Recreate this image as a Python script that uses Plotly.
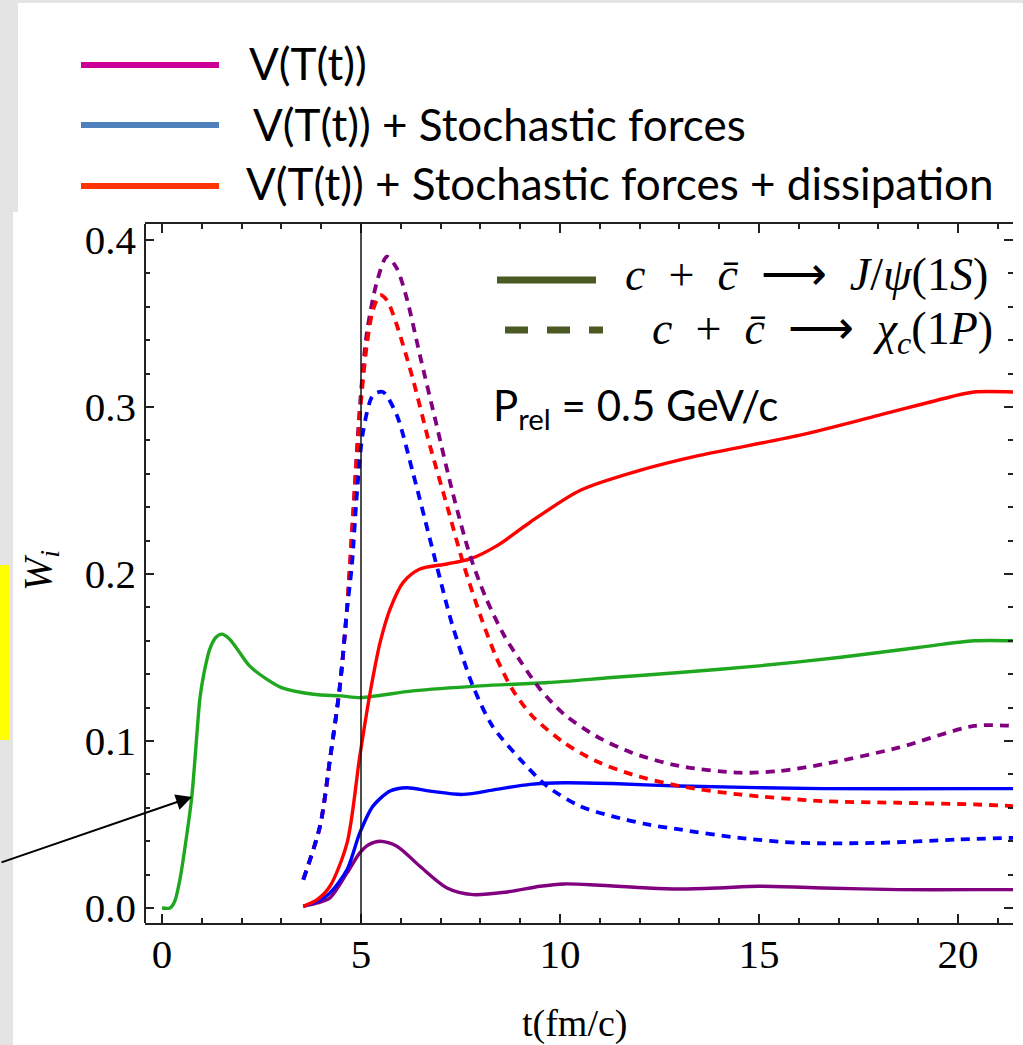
import plotly.graph_objects as go

# ---------------- data ----------------
green_t = [0, 0.2, 0.32, 0.45, 0.63, 0.75, 0.88, 0.95, 1.05, 1.2, 1.35, 1.5, 1.7, 1.95, 2.2, 2.63, 3.0,
           3.8, 4.5, 5.0, 6.3, 8.0, 9.7, 11.3, 13.0, 15.0, 17.0, 19.0, 20.4, 21.4]
green_y = [0, 0, 0.004, 0.017, 0.045, 0.067, 0.105, 0.125, 0.140, 0.155, 0.162, 0.164, 0.161, 0.153, 0.145, 0.137, 0.132,
           0.128, 0.127, 0.126, 0.130, 0.133, 0.135, 0.138, 0.141, 0.145, 0.150, 0.156, 0.160, 0.160]

purple_t = [3.55, 3.9, 4.22, 4.65, 4.97, 5.2, 5.48, 5.9, 6.48, 7.16, 7.81, 8.67, 9.5, 10.1, 10.9,
            12.2, 13.0, 14.0, 15.0, 16.6, 18.5, 20.4, 21.4]
purple_y = [0.001, 0.003, 0.006, 0.021, 0.033, 0.038, 0.040, 0.037, 0.025, 0.012, 0.008, 0.0096, 0.013, 0.0144, 0.0138,
            0.012, 0.0114, 0.012, 0.013, 0.012, 0.011, 0.011, 0.011]

blue_t = [3.55, 3.9, 4.22, 4.65, 4.97, 5.3, 5.73, 6.15, 6.73, 7.56, 8.4, 9.25, 10.1, 11.3, 13.0, 16.6, 20.4, 21.4]
blue_y = [0.001, 0.004, 0.009, 0.023, 0.045, 0.061, 0.070, 0.072, 0.070, 0.068, 0.071, 0.074, 0.075, 0.0745, 0.073,
          0.0715, 0.0715, 0.0715]

red_t = [3.55, 3.9, 4.22, 4.65, 4.97, 5.23, 5.48, 5.73, 6.06, 6.48, 7.16, 7.74, 8.42, 9.25, 10.5, 12.0,
         13.5, 16.0, 18.0, 19.8, 20.4, 21.4]
red_y = [0.001, 0.005, 0.013, 0.039, 0.091, 0.129, 0.159, 0.179, 0.195, 0.203, 0.206, 0.209, 0.217, 0.231, 0.250, 0.262,
         0.271, 0.283, 0.295, 0.306, 0.309, 0.309]

blue_d_t = [3.55, 3.97, 4.22, 4.47, 4.65, 4.77, 4.9, 5.05, 5.3, 5.55, 5.9, 6.3, 6.73, 7.16, 7.3, 7.81, 8.3, 9.0, 9.67,
            10.5, 11.3, 12.2, 13.0, 14.5, 16.0, 18.0, 20.0, 21.4]
blue_d_y = [0.017, 0.049, 0.089, 0.133, 0.179, 0.205, 0.249, 0.285, 0.307, 0.309, 0.295, 0.261, 0.221, 0.181, 0.169,
            0.133, 0.109, 0.089, 0.073, 0.061, 0.055, 0.050, 0.047, 0.042, 0.039, 0.039, 0.041, 0.042]

red_d_t = [3.55, 3.97, 4.22, 4.47, 4.65, 4.8, 4.97, 5.15, 5.3, 5.48, 5.65, 5.9, 6.3, 6.73, 7.16, 7.56, 8.0, 8.4, 8.8,
           9.3, 10.1, 10.9, 11.8, 13.0, 14.5, 16.6, 18.5, 20.4, 21.4]
red_d_y = [0.017, 0.049, 0.089, 0.133, 0.180, 0.235, 0.295, 0.338, 0.358, 0.367, 0.364, 0.349, 0.317, 0.277, 0.241,
           0.207, 0.175, 0.150, 0.131, 0.115, 0.099, 0.088, 0.080, 0.073, 0.068, 0.064, 0.063, 0.062, 0.061]

purple_d_t = [3.55, 3.97, 4.22, 4.47, 4.65, 4.8, 4.97, 5.15, 5.4, 5.65, 5.9, 6.15, 6.48, 6.9, 7.3, 7.74, 8.15, 8.6,
              9.0, 9.5, 10.1, 10.9, 11.8, 13.0, 14.5, 15.5, 16.6, 18.5, 20.4, 21.4]
purple_d_y = [0.017, 0.049, 0.089, 0.133, 0.180, 0.235, 0.300, 0.345, 0.375, 0.390, 0.383, 0.365, 0.331, 0.289, 0.249,
              0.211, 0.185, 0.163, 0.148, 0.131, 0.116, 0.103, 0.093, 0.085, 0.081, 0.082, 0.086, 0.096, 0.109, 0.109]

x_tick_vals = [0, 5, 10, 15, 20]
x_tick_text = ["0", "5", "10", "15", "20"]
y_tick_vals = [0.0, 0.1, 0.2, 0.3, 0.4]
y_tick_text = ["0.0", "0.1", "0.2", "0.3", "0.4"]

top_legend_labels = ["V(T(t))", "V(T(t)) + Stochastic forces", "V(T(t)) + Stochastic forces + dissipation"]
top_legend_colors = ["#CC0099", "#4F81BD", "#FF3300"]

# ---------------- layout geometry ----------------
W, H = 1023, 1045
L, R, T, B = 145, 10, 224, 122
PW = W - L - R
PH = H - T - B


def px(x):
    return (x - L) / PW


def py(y):
    return (H - B - y) / PH


fig = go.Figure()


def add_line(t, y, color, dash=None, width=3.4):
    fig.add_trace(go.Scatter(
        x=t, y=y, mode="lines",
        line=dict(color=color, width=width, shape="spline", smoothing=0.8, dash=dash),
        showlegend=False, hoverinfo="skip"))


GREEN, PURPLE, BLUE, RED = "#1FA81F", "#800080", "#0000FF", "#FF0000"
DASH = "9px,7px"

add_line(green_t, green_y, GREEN)
add_line(purple_t, purple_y, PURPLE)
add_line(blue_t, blue_y, BLUE)
add_line(red_t, red_y, RED)
add_line(purple_d_t, purple_d_y, PURPLE, DASH, 3.8)
add_line(red_d_t, red_d_y, RED, DASH, 3.8)
add_line(blue_d_t, blue_d_y, BLUE, DASH, 3.8)

shapes = []
# background pieces (paper is gray)
shapes.append(dict(type="rect", xref="paper", yref="paper", x0=px(18), x1=px(W + 5), y0=py(212), y1=py(3),
                   fillcolor="white", line=dict(width=0), layer="below"))
shapes.append(dict(type="rect", xref="paper", yref="paper", x0=px(13), x1=px(W + 5), y0=py(H + 5), y1=py(212),
                   fillcolor="white", line=dict(width=0), layer="below"))
shapes.append(dict(type="rect", xref="paper", yref="paper", x0=px(0), x1=px(10), y0=py(740), y1=py(565),
                   fillcolor="#FFFF00", line=dict(width=0), layer="below"))
# left frame line
shapes.append(dict(type="line", xref="paper", yref="paper", x0=0, x1=0, y0=0, y1=1,
                   line=dict(color="#222222", width=2)))
# vertical line at t = 5
shapes.append(dict(type="line", xref="x", yref="paper", x0=5, x1=5, y0=0, y1=1,
                   line=dict(color="#111111", width=1.5)))
# top legend lines
for i, c in enumerate(top_legend_colors):
    yy = [65, 125, 186][i]
    shapes.append(dict(type="line", xref="paper", yref="paper", x0=px(81), x1=px(219), y0=py(yy), y1=py(yy),
                       line=dict(color=c, width=6)))
# inner legend lines
OLIVE = "#4B5A23"
shapes.append(dict(type="line", xref="paper", yref="paper", x0=px(497), x1=px(596), y0=py(280), y1=py(280),
                   line=dict(color=OLIVE, width=7)))
shapes.append(dict(type="line", xref="paper", yref="paper", x0=px(505), x1=px(603), y0=py(330), y1=py(330),
                   line=dict(color=OLIVE, width=7, dash="23px,19px")))

annotations = []
SANS = "Lato"
for i, lab in enumerate(top_legend_labels):
    xx = [247, 251, 244][i]
    yy = [63, 124, 183][i]
    annotations.append(dict(xref="paper", yref="paper", x=px(xx), y=py(yy), text=lab, showarrow=False,
                            xanchor="left", yanchor="middle", font=dict(family=SANS, size=44, color="black")))

SERIF = "Liberation Serif"
SP = "\u00a0\u00a0"
annotations.append(dict(xref="paper", yref="paper", x=px(623), y=py(274),
                        text="<i>c</i>" + SP + "+" + SP + "<i>c̄</i>" + SP + "⟶" + SP
                             + "<i>J</i>/<i>ψ</i>(1<i>S</i>)",
                        showarrow=False, xanchor="left", yanchor="middle",
                        font=dict(family=SERIF, size=46, color="black")))
annotations.append(dict(xref="paper", yref="paper", x=px(650), y=py(332),
                        text="<i>c</i>" + SP + "+" + SP + "<i>c̄</i>" + SP + "⟶" + SP
                             + "<i>χ<sub>c</sub></i>(1<i>P</i>)",
                        showarrow=False, xanchor="left", yanchor="middle",
                        font=dict(family=SERIF, size=46, color="black")))
annotations.append(dict(xref="paper", yref="paper", x=px(491), y=py(408),
                        text="P<sub>rel</sub> = 0.5 GeV/c",
                        showarrow=False, xanchor="left", yanchor="middle",
                        font=dict(family=SANS, size=42, color="black")))
# axis titles
annotations.append(dict(xref="paper", yref="paper", x=px(575), y=py(1024), text="t(fm/c)",
                        showarrow=False, xanchor="center", yanchor="middle",
                        font=dict(family=SERIF, size=38, color="black")))
annotations.append(dict(xref="paper", yref="paper", x=px(40), y=py(571), text="<i>W<sub>i</sub></i>",
                        showarrow=False, xanchor="center", yanchor="middle", textangle=-90,
                        font=dict(family=SERIF, size=40, color="black")))
# arrow pointing to green curve
annotations.append(dict(xref="x", yref="y", x=0.754, y=0.0665, ax=-192, ay=66, axref="pixel", ayref="pixel",
                        showarrow=True, arrowhead=2, arrowsize=1.6, arrowwidth=2, arrowcolor="black", text=""))

TICKC = "#222222"
fig.update_layout(
    width=W, height=H,
    margin=dict(l=L, r=R, t=T, b=B, pad=0),
    paper_bgcolor="#E4E4E4",
    plot_bgcolor="white",
    showlegend=False,
    shapes=shapes,
    annotations=annotations,
    xaxis=dict(range=[-0.427, 21.38], showgrid=False, zeroline=False,
               showline=True, linecolor=TICKC, linewidth=2, mirror="allticks",
               ticks="inside", ticklen=9, tickwidth=1.5, tickcolor=TICKC,
               tickmode="array", tickvals=x_tick_vals, ticktext=x_tick_text,
               tickfont=dict(family=SERIF, size=41, color="black"), ticklabelstandoff=-6,
               minor=dict(tickmode="linear", tick0=0, dtick=1, ticks="inside", ticklen=5, tickwidth=1.5,
                          tickcolor=TICKC, showgrid=False)),
    yaxis=dict(range=[-0.009, 0.4096], showgrid=False, zeroline=False,
               showline=False, mirror="allticks",
               ticks="inside", ticklen=9, tickwidth=1.5, tickcolor=TICKC,
               tickmode="array", tickvals=y_tick_vals, ticktext=y_tick_text,
               tickfont=dict(family=SERIF, size=41, color="black"), ticklabelstandoff=8,
               minor=dict(tickmode="linear", tick0=0, dtick=0.02, ticks="inside", ticklen=5, tickwidth=1.5,
                          tickcolor=TICKC, showgrid=False)),
)

fig.write_html("out.html", config={"displayModeBar": False},
               post_script="document.body.style.margin='0';document.body.style.overflow='hidden';")
